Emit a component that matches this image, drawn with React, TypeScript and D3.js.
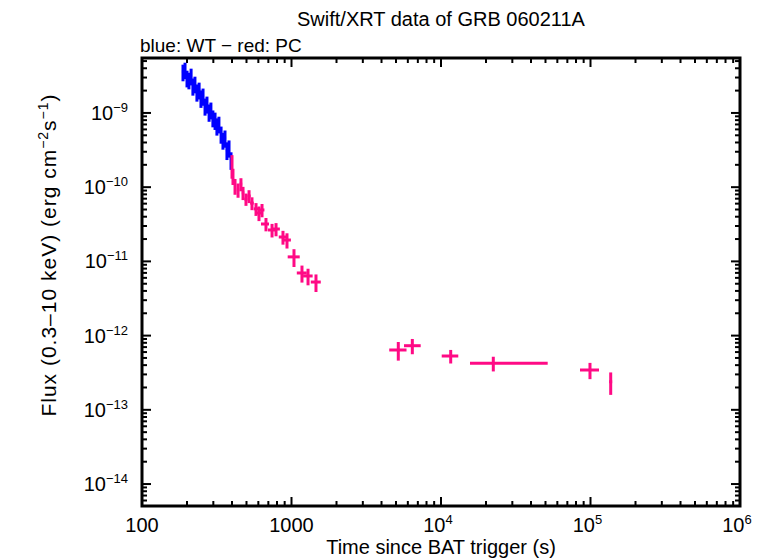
import React, { useEffect, useRef } from 'react';
import * as d3 from 'd3';

// WT mode (blue)
const wtTime = [188, 194, 200, 206, 213, 219, 226, 233, 241, 248, 256, 264, 272, 281, 289, 298, 308, 317, 327, 338, 348, 359, 370, 382, 394];
const wtTimeErr = [3, 3, 3, 3, 3, 3, 3, 4, 4, 4, 4, 4, 4, 4, 5, 5, 5, 5, 5, 5, 5, 6, 6, 6, 6];
const wtFlux = [3.57e-9, 3.8e-9, 2.96e-9, 2.78e-9, 3.15e-9, 2.31e-9, 2.46e-9, 1.92e-9, 2.04e-9, 1.59e-9, 1.69e-9, 1.24e-9, 1.32e-9, 1.03e-9, 1.1e-9, 8.6e-10, 8.0e-10, 6.7e-10, 7.1e-10, 5.2e-10, 4.3e-10, 4.6e-10, 3.17e-10, 3.38e-10, 2.33e-10];
const wtFluxErr = [0.9e-9, 0.95e-9, 0.75e-9, 0.7e-9, 0.8e-9, 0.6e-9, 0.62e-9, 0.5e-9, 0.52e-9, 0.42e-9, 0.44e-9, 0.32e-9, 0.34e-9, 0.27e-9, 0.28e-9, 2.2e-10, 2.1e-10, 1.75e-10, 1.8e-10, 1.35e-10, 1.1e-10, 1.2e-10, 0.85e-10, 0.88e-10, 0.62e-10];

// PC mode (red)
const pcTime = [400, 406, 419, 439, 459, 474, 496, 520, 544, 579, 606, 635, 675, 741, 788, 877, 933, 1039, 1175, 1290, 1458, 5180, 6430, 11610, 22380, 99200, 136500];
const pcTimeLo = [3, 4, 5, 8, 9, 9, 12, 13, 15, 20, 22, 24, 50, 45, 48, 55, 58, 96, 90, 95, 112, 675, 774, 1500, 6750, 14150, 3150];
const pcTimeHi = [3, 4, 5, 8, 9, 9, 12, 13, 15, 20, 22, 24, 32, 45, 48, 55, 58, 96, 90, 95, 112, 700, 885, 1440, 29340, 14800, 3150];
const pcFlux = [2.0e-10, 1.42e-10, 1.04e-10, 9.2e-11, 1.1e-10, 8.4e-11, 6.9e-11, 7.6e-11, 6.1e-11, 5.1e-11, 4.49e-11, 4.93e-11, 3.19e-11, 2.65e-11, 2.73e-11, 2.13e-11, 1.94e-11, 1.15e-11, 6.98e-12, 6.36e-12, 5.27e-12, 6.4e-13, 7.31e-13, 5.31e-13, 4.24e-13, 3.44e-13, 2.39e-13];
const pcFluxErr = [0.7e-10, 0.35e-10, 0.25e-10, 0.2e-10, 0.22e-10, 0.17e-10, 0.13e-10, 0.15e-10, 0.12e-10, 0.1e-10, 0.1e-10, 0.1e-10, 0.65e-11, 0.55e-11, 0.55e-11, 0.45e-11, 0.45e-11, 0.31e-11, 0.18e-11, 0.16e-11, 0.14e-11, 1.8e-13, 1.7e-13, 1.1e-13, 0.95e-13, 0.85e-13, 0.8e-13];

const xTickValues = [100, 1000, 1e4, 1e5, 1e6];
const xTickBase = ['100', '1000', '10', '10', '10'];
const xTickExp = ['', '', '4', '5', '6'];
const yTickValues = [1e-9, 1e-10, 1e-11, 1e-12, 1e-13, 1e-14];
const yTickExp = ['−9', '−10', '−11', '−12', '−13', '−14'];

const BLUE = '#0000ff';
const PINK = '#ff0a85';
const FONT = '"Liberation Sans", Arial, Helvetica, sans-serif';

export default function App() {
  const svgRef = useRef<SVGSVGElement>(null);

  useEffect(() => {
    if (!svgRef.current) return;
    const svg = d3.select(svgRef.current);
    svg.selectAll('*').remove();

    const left = 142, right = 740, top = 58, bottom = 506;

    const x = d3.scaleLog().domain([100, 1e6]).range([left, right]);
    const y = d3.scaleLog().domain([5.06e-15, 5.5e-9]).range([bottom, top]);

    // minor ticks
    const xMinor: number[] = [];
    for (let d = 100; d < 1e6; d *= 10) for (let k = 2; k <= 9; k++) xMinor.push(d * k);
    const yMinor: number[] = [];
    for (let d = 1e-15; d < 1e-8; d *= 10) for (let k = 2; k <= 9; k++) {
      const v = d * k;
      if (v > y.domain()[0] && v < y.domain()[1]) yMinor.push(v);
    }

    const ticks = svg.append('g').attr('stroke', 'black').attr('stroke-width', 2);
    const majorLen = 9, minorLen = 5;
    xTickValues.forEach(v => {
      ticks.append('line').attr('x1', x(v)).attr('x2', x(v)).attr('y1', bottom).attr('y2', bottom - majorLen);
      ticks.append('line').attr('x1', x(v)).attr('x2', x(v)).attr('y1', top).attr('y2', top + majorLen);
    });
    xMinor.forEach(v => {
      ticks.append('line').attr('x1', x(v)).attr('x2', x(v)).attr('y1', bottom).attr('y2', bottom - minorLen);
      ticks.append('line').attr('x1', x(v)).attr('x2', x(v)).attr('y1', top).attr('y2', top + minorLen);
    });
    yTickValues.forEach(v => {
      ticks.append('line').attr('y1', y(v)).attr('y2', y(v)).attr('x1', left).attr('x2', left + majorLen);
      ticks.append('line').attr('y1', y(v)).attr('y2', y(v)).attr('x1', right).attr('x2', right - majorLen);
    });
    yMinor.forEach(v => {
      ticks.append('line').attr('y1', y(v)).attr('y2', y(v)).attr('x1', left).attr('x2', left + minorLen);
      ticks.append('line').attr('y1', y(v)).attr('y2', y(v)).attr('x1', right).attr('x2', right - minorLen);
    });

    // frame
    svg.append('rect')
      .attr('x', left).attr('y', top)
      .attr('width', right - left).attr('height', bottom - top)
      .attr('fill', 'none').attr('stroke', 'black').attr('stroke-width', 3);

    // error bars
    const drawSeries = (color: string, t: number[], tLo: number[], tHi: number[], f: number[], fe: number[]) => {
      const g = svg.append('g').attr('stroke', color).attr('stroke-width', 3);
      t.forEach((tv, i) => {
        g.append('line')
          .attr('x1', x(tv - tLo[i])).attr('x2', x(tv + tHi[i]))
          .attr('y1', y(f[i])).attr('y2', y(f[i]));
        g.append('line')
          .attr('x1', x(tv)).attr('x2', x(tv))
          .attr('y1', y(f[i] - fe[i])).attr('y2', y(f[i] + fe[i]));
      });
    };
    drawSeries(BLUE, wtTime, wtTimeErr, wtTimeErr, wtFlux, wtFluxErr);
    drawSeries(PINK, pcTime, pcTimeLo, pcTimeHi, pcFlux, pcFluxErr);

    // x tick labels
    xTickValues.forEach((v, i) => {
      const t = svg.append('text')
        .attr('x', x(v) + (xTickExp[i] ? -3 : 0)).attr('y', 532)
        .attr('text-anchor', 'middle')
        .attr('font-size', 20);
      t.append('tspan').text(xTickBase[i]);
      if (xTickExp[i]) t.append('tspan').attr('dy', -8).attr('font-size', 13).text(xTickExp[i]);
    });

    // y tick labels
    yTickValues.forEach((v, i) => {
      const t = svg.append('text')
        .attr('x', 128).attr('y', y(v) + 7)
        .attr('text-anchor', 'end')
        .attr('font-size', 20);
      t.append('tspan').text('10');
      t.append('tspan').attr('dy', -8).attr('font-size', 13).text(yTickExp[i]);
    });

    // titles
    svg.append('text').attr('x', (left + right) / 2).attr('y', 26)
      .attr('text-anchor', 'middle').attr('font-size', 20)
      .text('Swift/XRT data of GRB 060211A');
    svg.append('text').attr('x', left - 2).attr('y', 52)
      .attr('font-size', 19)
      .text('blue: WT − red: PC');
    svg.append('text').attr('x', (left + right) / 2).attr('y', 554)
      .attr('text-anchor', 'middle').attr('font-size', 20)
      .text('Time since BAT trigger (s)');

    const yl = svg.append('text')
      .attr('transform', `translate(56,255) rotate(-90)`)
      .attr('text-anchor', 'middle').attr('font-size', 21)
      .attr('letter-spacing', 1);
    yl.append('tspan').text('Flux (0.3–10 keV) (erg cm');
    yl.append('tspan').attr('dy', -8).attr('font-size', 14).text('−2');
    yl.append('tspan').attr('dy', 8).text('s');
    yl.append('tspan').attr('dy', -8).attr('font-size', 14).text('−1');
    yl.append('tspan').attr('dy', 8).text(')');
  }, []);

  return (
    <svg
      ref={svgRef}
      width={764}
      height={558}
      style={{ position: 'absolute', left: 0, top: 0, background: 'white', fontFamily: FONT }}
    />
  );
}
